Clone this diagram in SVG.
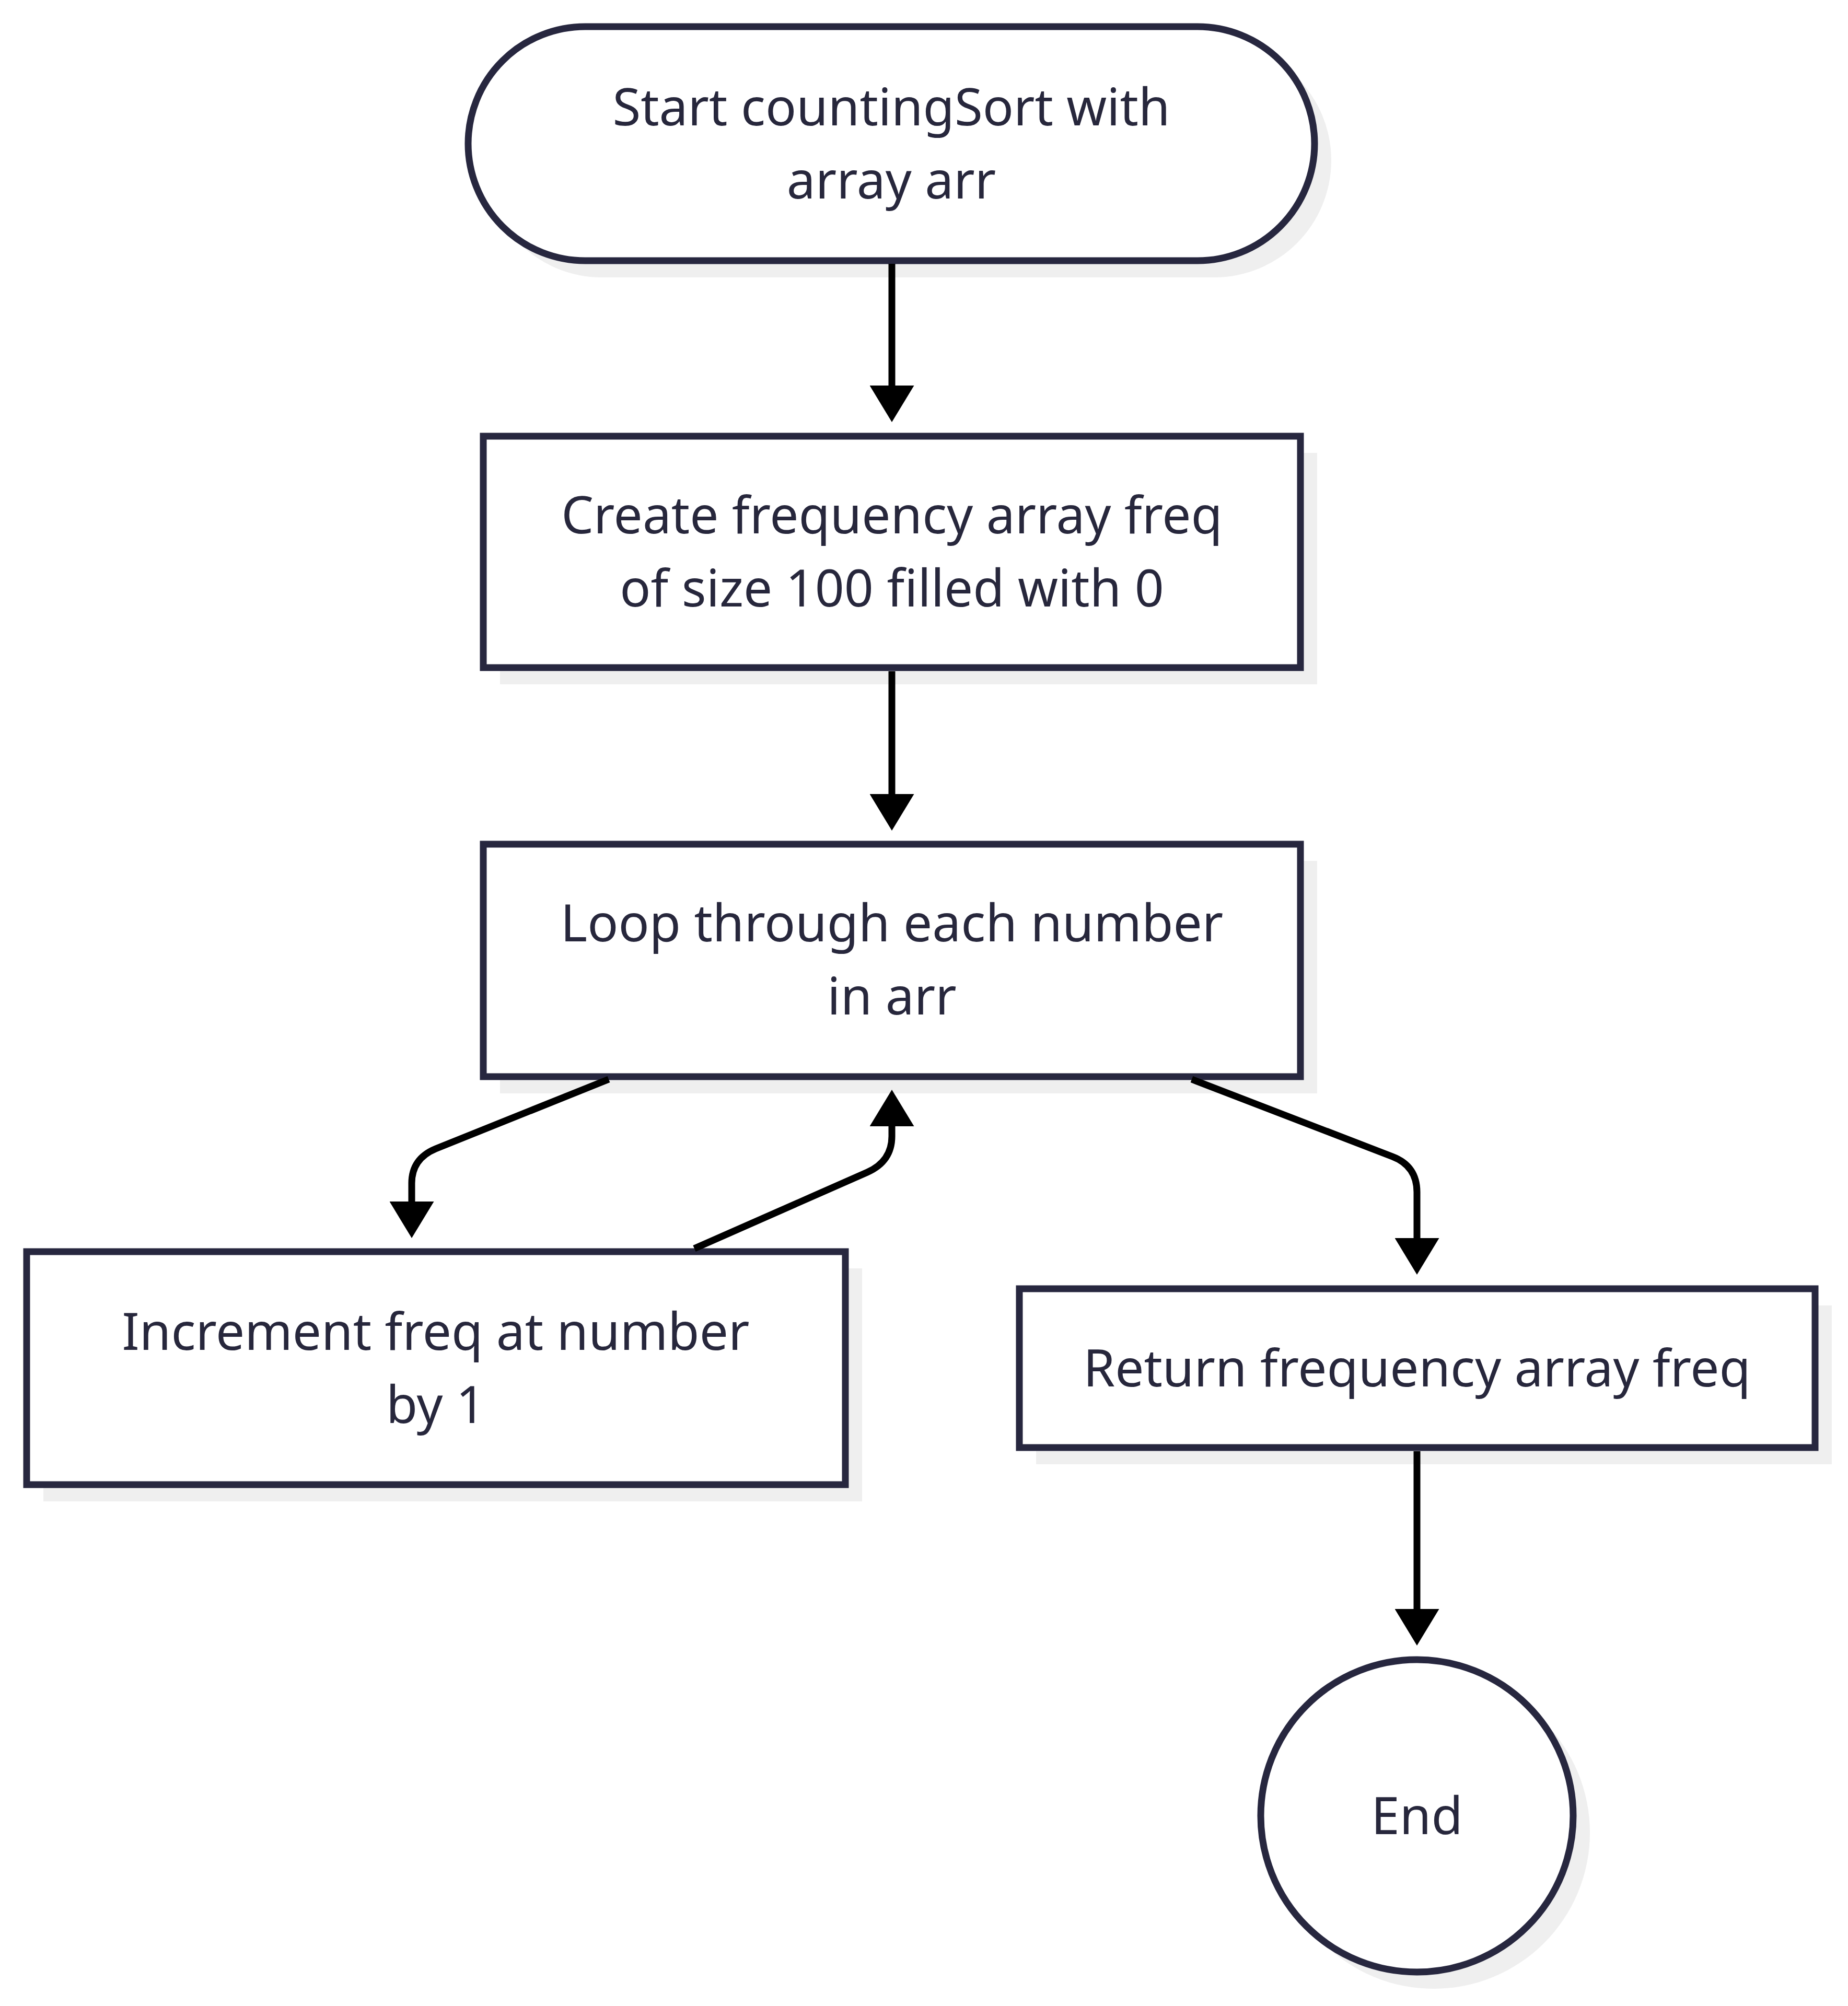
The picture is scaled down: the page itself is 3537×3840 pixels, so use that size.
<svg xmlns="http://www.w3.org/2000/svg" width="3537" height="3840" viewBox="0 0 3537 3840">
<style>
.shadow{fill:#efefef;stroke:none}
.node{fill:#ffffff;stroke:#27273f;stroke-width:13}
.lbl{font-family:"Noto Sans","Open Sans","DejaVu Sans",sans-serif;font-size:98px;fill:#27273c;text-anchor:middle}
.edge{fill:none;stroke:#000000;stroke-width:13}
</style>
<defs>
<marker id="arrow" markerUnits="userSpaceOnUse" viewBox="0 0 70 85" markerWidth="70" markerHeight="85" refX="45" refY="42.5" orient="auto">
<path d="M0,0 L70,42.5 L0,85 z" fill="#000000"/>
</marker>
</defs>
<rect width="3537" height="3840" fill="#ffffff"/>
<g id="start">
<rect class="shadow" x="928" y="83" width="1620" height="448" rx="224"/>
<rect class="node" x="896" y="51" width="1620" height="448" rx="224"/>
<text class="lbl" x="1706" y="240">Start countingSort with</text>
<text class="lbl" x="1706" y="380">array arr</text>
</g>
<g id="create">
<rect class="shadow" x="957" y="867" width="1564" height="443"/>
<rect class="node" x="925" y="835" width="1564" height="443"/>
<text class="lbl" x="1707" y="1021">Create frequency array freq</text>
<text class="lbl" x="1707" y="1161">of size 100 filled with 0</text>
</g>
<g id="loop">
<rect class="shadow" x="957" y="1648" width="1564" height="445"/>
<rect class="node" x="925" y="1616" width="1564" height="445"/>
<text class="lbl" x="1707" y="1802">Loop through each number</text>
<text class="lbl" x="1707" y="1942">in arr</text>
</g>
<g id="increment">
<rect class="shadow" x="83" y="2428" width="1567" height="446"/>
<rect class="node" x="51" y="2396" width="1567" height="446"/>
<text class="lbl" x="834" y="2584">Increment freq at number</text>
<text class="lbl" x="834" y="2724">by 1</text>
</g>
<g id="return">
<rect class="shadow" x="1983" y="2499" width="1523" height="304"/>
<rect class="node" x="1951" y="2467" width="1523" height="304"/>
<text class="lbl" x="2712" y="2654">Return frequency array freq</text>
</g>
<g id="end">
<circle class="shadow" cx="2744" cy="3508" r="299"/>
<circle class="node" cx="2712" cy="3476" r="299"/>
<text class="lbl" x="2712" y="3511">End</text>
</g>
<g id="connectors">
<path class="edge" d="M1707,505 L1707,783" marker-end="url(#arrow)"/>
<path class="edge" d="M1707,1285 L1707,1565" marker-end="url(#arrow)"/>
<path class="edge" d="M1165,2066 L834,2199 Q788,2218 788,2265 L788,2345" marker-end="url(#arrow)"/>
<path class="edge" d="M1329,2390 L1660,2244 Q1707,2223 1707,2175 L1707,2111" marker-end="url(#arrow)"/>
<path class="edge" d="M2281,2066 L2665,2214 Q2712,2232 2712,2282 L2712,2415" marker-end="url(#arrow)"/>
<path class="edge" d="M2712,2778 L2712,3125" marker-end="url(#arrow)"/>
</g>
</svg>
